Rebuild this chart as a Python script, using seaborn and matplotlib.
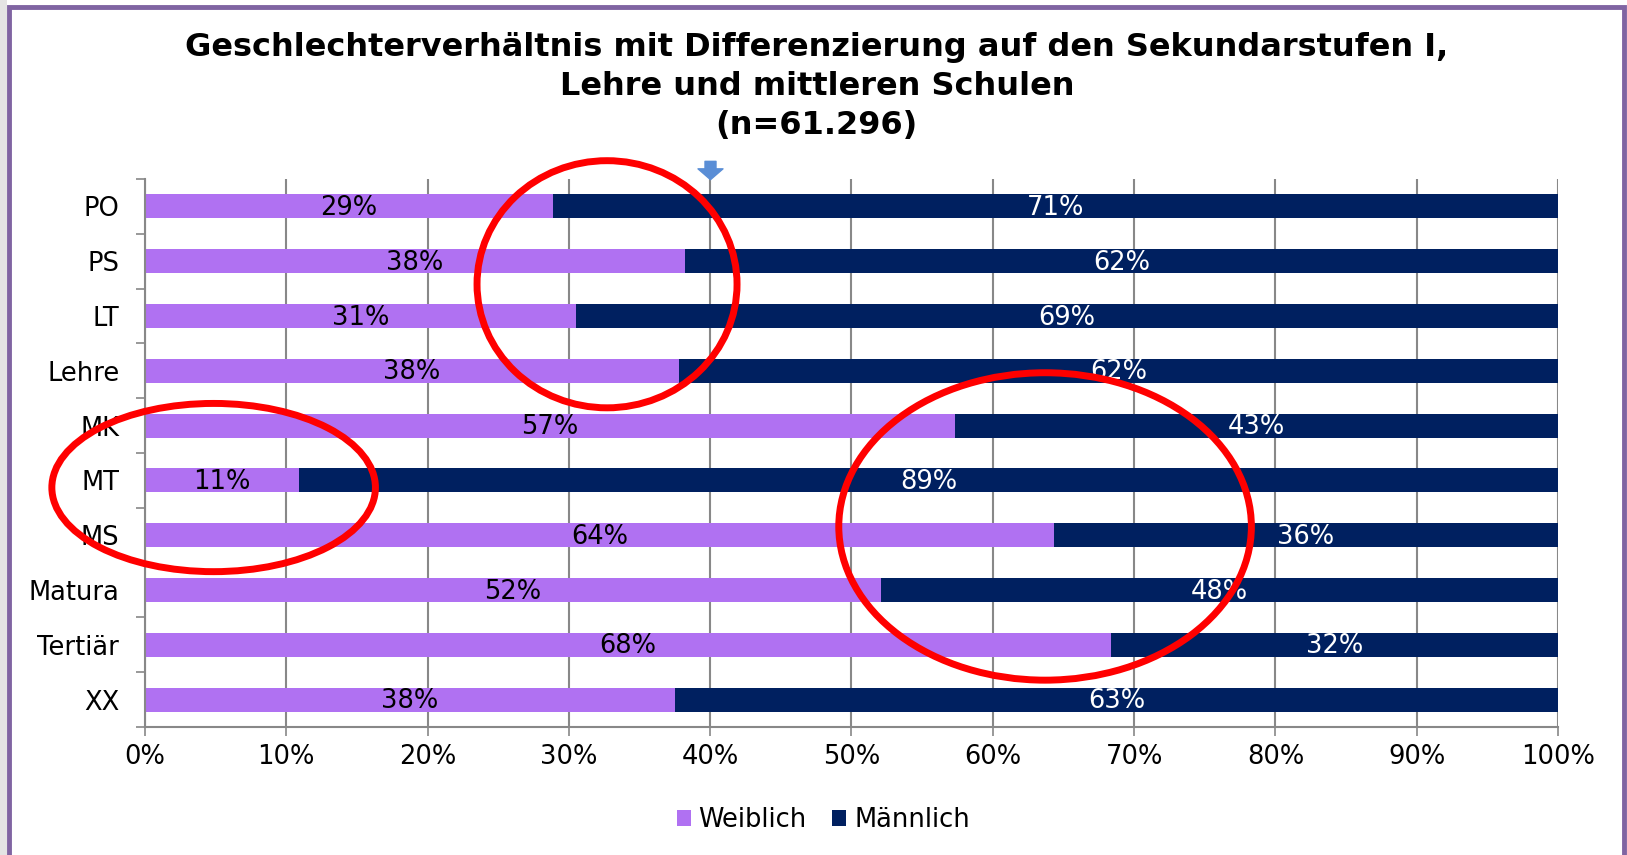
import matplotlib
matplotlib.use("Agg")
import matplotlib.pyplot as plt
import matplotlib.transforms as mtransforms
from matplotlib.patches import Ellipse, Rectangle
from matplotlib.path import Path
import numpy as np
import pandas as pd
import seaborn as sns

# data
kategorien = ["PO", "PS", "LT", "Lehre", "MK", "MT", "MS", "Matura", "Tertiär", "XX"]
weiblich = [28.9, 38.2, 30.5, 37.8, 57.3, 10.9, 64.3, 52.1, 68.4, 37.5]
maennlich = [71.1, 61.8, 69.5, 62.2, 42.7, 89.1, 35.7, 47.9, 31.6, 62.5]
weiblich_labels = ["29%", "38%", "31%", "38%", "57%", "11%", "64%", "52%", "68%", "38%"]
maennlich_labels = ["71%", "62%", "69%", "62%", "43%", "89%", "36%", "48%", "32%", "63%"]
x_ticks = [0, 10, 20, 30, 40, 50, 60, 70, 80, 90, 100]

lila = "#B071F2"
navy = "#002060"
grau = "#888888"

df = pd.DataFrame({"kategorie": kategorien, "Weiblich": weiblich, "Männlich": maennlich})
df["gesamt"] = df["Weiblich"] + df["Männlich"]

sns.set_theme(style="white")
plt.rcParams["font.family"] = ["DejaVu Sans"]
plt.rcParams["text.color"] = "black"
plt.rcParams["xtick.labelcolor"] = "black"
plt.rcParams["ytick.labelcolor"] = "black"

fig = plt.figure(figsize=(16.27, 8.55), dpi=100)
ax = fig.add_axes([0.0891, 0.1497, 0.8685, 0.6409])

sns.barplot(data=df, x="gesamt", y="kategorie", color=navy, saturation=1,
            width=0.44, linewidth=0, ax=ax, label="Männlich")
sns.barplot(data=df, x="Weiblich", y="kategorie", color=lila, saturation=1,
            width=0.44, linewidth=0, ax=ax, label="Weiblich")
if ax.get_legend() is not None:
    ax.get_legend().remove()

# labels in the bars
for i in range(len(kategorien)):
    ax.text(weiblich[i] / 2, i + 0.03, weiblich_labels[i], ha="center", va="center",
            fontsize=18.5, color="black")
    ax.text(weiblich[i] + maennlich[i] / 2, i + 0.03, maennlich_labels[i], ha="center",
            va="center", fontsize=18.5, color="white")

ax.set_xlim(0, 100)
ax.set_ylim(9.5, -0.5)
ax.set_xlabel("")
ax.set_ylabel("")
ax.set_xticks(x_ticks)
ax.set_xticklabels([f"{t}%" for t in x_ticks], fontsize=18.5)
ax.set_yticks(range(len(kategorien)))
ax.set_yticklabels(kategorien, fontsize=18.5)
ax.set_yticks(np.arange(-0.5, 10, 1), minor=True)
ax.tick_params(axis="y", which="major", length=0, pad=18.5, labelcolor="black")
ax.tick_params(axis="y", which="minor", left=True, length=6.5, width=1.2, color=grau)
ax.tick_params(axis="x", which="major", bottom=True, length=6.5, width=1.2, color=grau,
               pad=6, labelcolor="black")
ax.xaxis.grid(True, color=grau, linewidth=1.5)
ax.yaxis.grid(False)
ax.set_axisbelow(True)
for s in ["top", "right"]:
    ax.spines[s].set_visible(False)
for s in ["left", "bottom"]:
    ax.spines[s].set_color(grau)
    ax.spines[s].set_linewidth(1.5)

# legend
handles, labels = ax.get_legend_handles_labels()
order = [labels.index("Weiblich"), labels.index("Männlich")]
fig.legend([handles[k] for k in order], [labels[k] for k in order],
           loc="center", bbox_to_anchor=(0.506, 0.041), ncol=2, frameon=False,
           fontsize=18.5, handlelength=0.55, handleheight=0.55, handletextpad=0.3,
           columnspacing=1.0, labelcolor="black")

# title
fig.text(0.502, 0.899, "Geschlechterverhältnis mit Differenzierung auf den Sekundarstufen I,\n"
         "Lehre und mittleren Schulen\n(n=61.296)", ha="center", va="center",
         fontsize=23, fontweight="bold", linespacing=1.32, color="black")

# red circles
for cx, cy, w, h in [(32.7, 1.42, 18.4, 4.51), (4.86, 5.13, 22.9, 3.07), (63.7, 5.84, 29.2, 5.61)]:
    ax.add_patch(Ellipse((cx, cy), w, h, fill=False, edgecolor="#FF0000", linewidth=5,
                         clip_on=False, zorder=10))

# small blue arrow at 40%
pfeil = Path([(-5.5, 9.15), (5.5, 9.15), (5.5, 1.65), (12.5, 1.65), (0, -9.15),
              (-12.5, 1.65), (-5.5, 1.65), (-5.5, 9.15)], closed=True)
trans = mtransforms.blended_transform_factory(ax.transData, ax.transAxes)
ax.plot([40], [1.0167], marker=pfeil, markersize=18, color="#5A8ED6", linestyle="none",
        transform=trans, clip_on=False, zorder=11)

# frame
fig.patches.append(Rectangle((0, 0), 0.0045, 1, transform=fig.transFigure,
                             facecolor="#E4E4E4", edgecolor="none", zorder=0))
fig.patches.append(Rectangle((0.0058, -0.05), 0.9922, 1.042, transform=fig.transFigure,
                             fill=False, edgecolor="#8064A2", linewidth=3.5, zorder=20))

plt.savefig("out.png", dpi=100)
